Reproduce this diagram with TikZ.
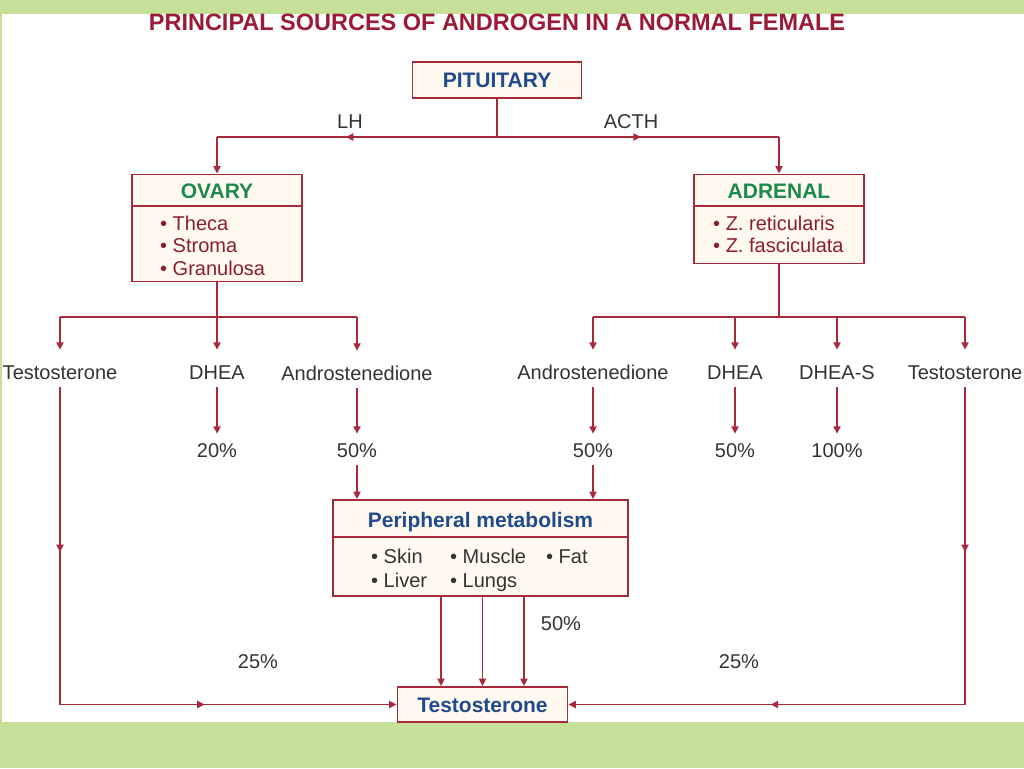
\documentclass[tikz,border=0pt]{standalone}
\usepackage{fontspec}
\setmainfont{Liberation Sans}
\usetikzlibrary{arrows.meta,decorations.markings}
\definecolor{lc}{HTML}{A8283C}
\definecolor{titlec}{HTML}{9B1B36}
\definecolor{hdrblue}{HTML}{1F4A8E}
\definecolor{hdrgreen}{HTML}{1C8A4C}
\definecolor{itemred}{HTML}{8A1E2E}
\definecolor{lbltxt}{HTML}{333333}
\definecolor{boxfill}{HTML}{FFF9EF}
\definecolor{bggreen}{HTML}{C6E09A}
\tikzset{
  ln/.style={draw=lc, line width=1.8pt},
  arr/.style={ln, -{Triangle[length=7.5pt,width=7pt]}},
  midarr/.style={postaction={decorate}, decoration={markings, mark=at position #1 with {\arrow{Triangle[length=7.5pt,width=7pt,color=lc]}}}},
  box/.style={draw=lc, line width=1.8pt, fill=boxfill, inner sep=0pt, anchor=center},
  lbl/.style={font=\fontsize{20}{22}\selectfont, text=lbltxt, anchor=base, inner xsep=2pt, inner ysep=4pt, text height=14pt, text depth=4pt},
  hdr/.style={font=\fontsize{21}{22}\selectfont\bfseries, anchor=base, inner sep=0pt},
  item/.style={font=\fontsize{20}{22}\selectfont, text=itemred, anchor=base west, inner sep=0pt},
  pitem/.style={font=\fontsize{20}{22}\selectfont, text=lbltxt, anchor=base west, inner sep=0pt},
}
\begin{document}
\begin{tikzpicture}[x=1pt,y=-1pt]
\useasboundingbox (0,0) rectangle (1024,768);
\fill[bggreen] (0,0) rectangle (1024,768);
\fill[white] (2,14) rectangle (1024,722);

% title
\node (title) [anchor=base, inner sep=0pt, text=titlec] at (497,31)
  {\resizebox{696pt}{16.5pt}{\bfseries PRINCIPAL SOURCES OF ANDROGEN IN A NORMAL FEMALE}};

% boxes
\node (pit) [box, minimum width=169pt, minimum height=36pt] at (497,80) {};
\node (pitt) [hdr, text=hdrblue] at (497,87.5) {PITUITARY};

\node (ov) [box, minimum width=170pt, minimum height=107pt] at (217,228) {};
\draw[ln] (ov.west |- 0,206) -- (ov.east |- 0,206);
\node (ovt) [hdr, text=hdrgreen] at (217,198) {OVARY};
\node (ov1) [item] at (160,230) {• Theca};
\node (ov2) [item] at (160,252) {• Stroma};
\node (ov3) [item] at (160,275) {• Granulosa};

\node (ad) [box, minimum width=170pt, minimum height=89pt] at (779,219) {};
\draw[ln] (ad.west |- 0,206) -- (ad.east |- 0,206);
\node (adt) [hdr, text=hdrgreen] at (779,198) {ADRENAL};
\node (ad1) [item] at (713,230) {• Z. reticularis};
\node (ad2) [item] at (713,252) {• Z. fasciculata};

\node (pm) [box, minimum width=295pt, minimum height=96pt] at (480.5,548) {};
\draw[ln] (pm.west |- 0,537) -- (pm.east |- 0,537);
\node (pmt) [hdr, text=hdrblue] at (480.5,527) {Peripheral metabolism};
\node (pm1) [pitem] at (371,563) {• Skin};
\node (pm2) [pitem] at (450,563) {• Muscle};
\node (pm3) [pitem] at (546,563) {• Fat};
\node (pm4) [pitem] at (371,587) {• Liver};
\node (pm5) [pitem] at (450,587) {• Lungs};

\node (tB) [box, minimum width=170pt, minimum height=35pt] at (482.5,704.5) {};
\node (tBt) [hdr, text=hdrblue] at (482.5,712) {Testosterone};

% LH / ACTH
\node (lh) [lbl] at (350,128) {LH};
\node (acth) [lbl] at (631,128) {ACTH};
\coordinate (jt) at (497,137);
\coordinate (jl) at (ov.north |- jt);
\coordinate (jr) at (ad.north |- jt);
\draw[ln] (pit.south) -- (jt);
\draw[ln, midarr=0.54] (jt) -- (jl);
\draw[ln, midarr=0.51] (jt) -- (jr);
\draw[arr] (jl) -- (ov.north);
\draw[arr] (jr) -- (ad.north);

% second level labels
\node (tL) [lbl] at (60,379) {Testosterone};
\node (d1) [lbl] at (217,379) {DHEA};
\node (a1) [lbl] at (357,380) {Androstenedione};
\node (a2) [lbl] at (593,379) {Androstenedione};
\node (d2) [lbl] at (735,379) {DHEA};
\node (ds) [lbl] at (837,379) {DHEA-S};
\node (tR) [lbl] at (965,379) {Testosterone};

% percentages
\node (p1) [lbl] at (217,457) {20\%};
\node (p2) [lbl] at (357,457) {50\%};
\node (p3) [lbl] at (593,457) {50\%};
\node (p4) [lbl] at (735,457) {50\%};
\node (p5) [lbl] at (837,457) {100\%};
\node (p6) [lbl] at (561,630) {50\%};
\node (q1) [lbl] at (258,668) {25\%};
\node (q2) [lbl] at (739,668) {25\%};

% ovary branches
\coordinate (ob) at (ov.south |- 0,317);
\draw[ln] (ov.south) -- (ob);
\draw[ln] (tL |- ob) -- (a1 |- ob);
\draw[arr, shorten >=11pt] (tL |- ob) -- (tL.north);
\draw[arr, shorten >=11pt] (ob) -- (d1.north);
\draw[arr, shorten >=11pt] (a1 |- ob) -- (a1.north);

% adrenal branches
\coordinate (ab) at (ad.south |- 0,317);
\draw[ln] (ad.south) -- (ab);
\draw[ln] (a2 |- ab) -- (tR |- ab);
\draw[arr, shorten >=11pt] (a2 |- ab) -- (a2.north);
\draw[arr, shorten >=11pt] (d2 |- ab) -- (d2.north);
\draw[arr, shorten >=11pt] (ds |- ab) -- (ds.north);
\draw[arr, shorten >=11pt] (tR |- ab) -- (tR.north);

% to percentages
\draw[arr, shorten >=5pt] (d1.south) -- (p1.north);
\draw[arr, shorten >=5pt] (a1.south) -- (p2.north);
\draw[arr, shorten >=5pt] (a2.south) -- (p3.north);
\draw[arr, shorten >=5pt] (d2.south) -- (p4.north);
\draw[arr, shorten >=5pt] (ds.south) -- (p5.north);

% into peripheral metabolism
\draw[arr] (p2.south) -- (p2.south |- pm.north);
\draw[arr] (p3.south) -- (p3.south |- pm.north);

% peripheral to testosterone
\draw[arr] ([xshift=-41.5pt]tB.north |- pm.south) -- ([xshift=-41.5pt]tB.north);
\draw[arr] (tB.north |- pm.south) -- (tB.north);
\draw[arr] ([xshift=41.5pt]tB.north |- pm.south) -- ([xshift=41.5pt]tB.north);

% outer loops
\coordinate (cL) at (tL.south |- tB.west);
\coordinate (cR) at (tR.south |- tB.east);
\draw[ln, midarr=0.52] (tL.south) -- (cL);
\draw[arr, midarr=0.43] (cL) -- (tB.west);
\draw[ln, midarr=0.52] (tR.south) -- (cR);
\draw[arr, midarr=0.49] (cR) -- (tB.east);
\end{tikzpicture}
\end{document}
